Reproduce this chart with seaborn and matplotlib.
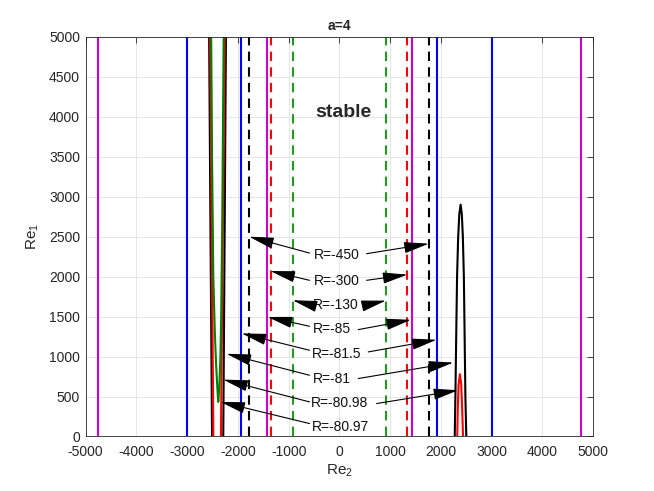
import numpy as np
import pandas as pd
import matplotlib
matplotlib.use('Agg')
import matplotlib.pyplot as plt
import seaborn as sns

# vertical boundaries (Re2 positions)
magenta_outer = [-4760, 4760]
blue_outer = [-3000, 3000]
blue_inner = [-1940, 1928]        # R=-81.5
magenta_inner = [-1428, 1428]     # R=-85
black_dashed = [-1777, 1770]      # R=-450
red_dashed = [-1350, 1338]        # R=-300
green_dashed = [-923, 910]        # R=-130

# R=-81 curves (black)
black_l1_x = [-2567, -2540, -2510]
black_l1_y = [5000, 2500, 0]
black_l2_x = [-2289, -2262, -2236]
black_l2_y = [0, 2500, 5000]
black_peak_x = [2272, 2285, 2300, 2318, 2340, 2362, 2388, 2412, 2432, 2452, 2468, 2482, 2500]
black_peak_y = [0, 500, 1200, 2000, 2500, 2780, 2900, 2780, 2500, 2000, 1200, 500, 0]

# R=-80.98 curves (red)
red_l1_x = [-2547, -2515, -2484]
red_l1_y = [5000, 2500, 0]
red_l2_x = [-2335, -2298, -2261]
red_l2_y = [0, 2500, 5000]
red_peak_x = [2322, 2332, 2348, 2374, 2400, 2418, 2436]
red_peak_y = [0, 350, 650, 780, 650, 350, 0]

# R=-80.97 curve (green)
green_x = [-2527, -2510, -2485, -2455, -2430, -2405, -2388, -2368, -2345, -2330, -2310, -2281]
green_y = [5000, 3500, 2000, 1300, 900, 600, 433, 600, 1000, 1500, 2600, 5000]

# annotations
labels = ['R=-450', 'R=-300', 'R=-130', 'R=-85', 'R=-81.5', 'R=-81', 'R=-80.98', 'R=-80.97']
label_x = [-55, -55, -69, -154, -55, -154, 10, 30]
label_y = [2275, 1941, 1650, 1341, 1037, 725, 420, 120]
left_tip_x = [-1780, -1360, -920, -1415, -1927, -2225, -2290, -2345]
left_tip_y = [2500, 2070, 1705, 1495, 1290, 1035, 712, 433]
left_tail_x = [-590, -590, -590, -590, -590, -590, -590, -590]
left_tail_y = [2295, 1954, 1650, 1379, 1079, 766, 433, 162]
right_tip_x = [1760, 1340, 915, 1410, 1915, 2243, 2341]
right_tip_y = [2412, 2025, 1700, 1460, 1210, 925, 579]
right_tail_x = [536, 536, 502, 370, 567, 370, 733]
right_tail_y = [2287, 1954, 1641, 1337, 1058, 725, 412]

sns.set_style('white')
plt.rcParams['font.family'] = ['Liberation Sans', 'DejaVu Sans']
plt.rcParams['mathtext.fontset'] = 'custom'
plt.rcParams['mathtext.rm'] = 'Liberation Sans'
plt.rcParams['mathtext.default'] = 'regular'
plt.rcParams['axes.unicode_minus'] = False

MAG = '#cc00cc'
BLUE = '#0000ff'
GREEN = '#008000'
GREEN_D = '#229922'
RED = '#ff0000'
dash = (0, (4.5, 3))

fig = plt.figure(figsize=(6.54, 4.91), dpi=100)
ax = fig.add_axes([0.131, 0.111, 0.776, 0.814])

for xs, c, ls in [(magenta_outer, MAG, '-'), (blue_outer, BLUE, '-'), (blue_inner, BLUE, '-'),
                  (magenta_inner, MAG, '-'), (black_dashed, 'black', dash),
                  (red_dashed, RED, dash), (green_dashed, GREEN_D, dash)]:
    for x in xs:
        ax.axvline(x, color=c, ls=ls, lw=1.5)

curves = [(black_l1_x, black_l1_y, 'black'), (black_l2_x, black_l2_y, 'black'),
          (red_l1_x, red_l1_y, RED), (red_l2_x, red_l2_y, RED),
          (green_x, green_y, GREEN),
          (black_peak_x, black_peak_y, 'black'), (red_peak_x, red_peak_y, RED)]
for cx, cy, c in curves:
    sns.lineplot(x=cx, y=cy, sort=False, estimator=None, color=c, lw=1.5, ax=ax)

aprops = dict(arrowstyle='-|>,head_length=1.1,head_width=0.25', color='black',
              lw=0.8, shrinkA=0, shrinkB=0, mutation_scale=14)
for i, lab in enumerate(labels):
    ax.text(label_x[i], label_y[i], lab, ha='center', va='center', fontsize=10, color='#111111')
    ax.annotate('', xy=(left_tip_x[i], left_tip_y[i]), xytext=(left_tail_x[i], left_tail_y[i]),
                arrowprops=aprops)
for i in range(len(right_tip_x)):
    ax.annotate('', xy=(right_tip_x[i], right_tip_y[i]), xytext=(right_tail_x[i], right_tail_y[i]),
                arrowprops=aprops)

ax.text(70, 4054, 'stable', ha='center', va='center', fontsize=14, fontweight='bold')

ax.set_xlim(-5000, 5000)
ax.set_ylim(0, 5000)
ax.set_xticks(np.arange(-5000, 5001, 1000))
ax.set_yticks(np.arange(0, 5001, 500))
ax.grid(True, color='#e6e6e6', lw=0.7)
ax.set_axisbelow(True)
ax.tick_params(direction='in', top=True, right=True, length=4, width=0.6,
               colors='#262626', labelsize=10)
ax.tick_params(axis='x', pad=6)
ax.tick_params(axis='y', pad=4)
for s in ax.spines.values():
    s.set_color('#262626')
    s.set_linewidth(0.6)
ax.set_xlabel('Re$_2$', fontsize=11, color='#262626', labelpad=3)
ax.set_ylabel('Re$_1$', fontsize=11, color='#262626', labelpad=6)
ax.set_title('a=4', fontsize=10, fontweight='bold', pad=5)

fig.savefig('out.png', dpi=100)
